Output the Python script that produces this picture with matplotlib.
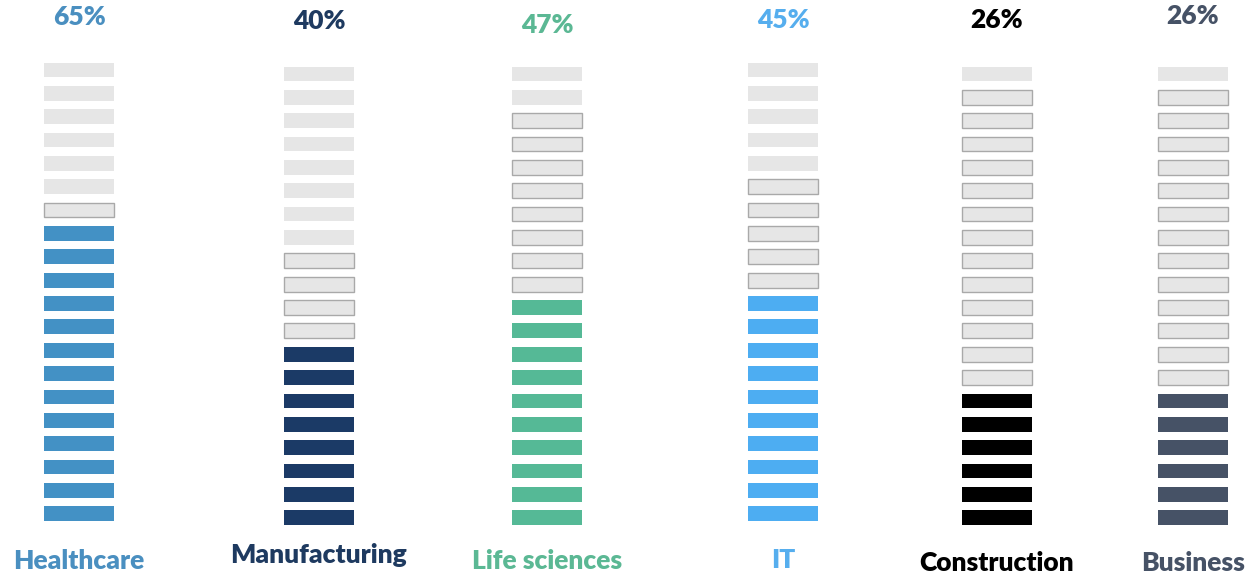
import matplotlib.pyplot as plt
import numpy as np

# data
categories = ["Healthcare", "Manufacturing", "Life sciences", "IT", "Construction", "Business"]
percent_labels = ["65%", "40%", "47%", "45%", "26%", "26%"]
filled_segments = [13, 8, 10, 10, 6, 6]
plain_segments = [6, 8, 2, 5, 1, 1]   # empty segments drawn without outline (top of column)
total_segments = 20

bar_colors = ["#4391C5", "#1B3A66", "#55B996", "#4DADF2", "#000000", "#465266"]
label_colors = ["#4A8FC0", "#1E3A60", "#5BB894", "#56AEEE", "#000000", "#465266"]

# layout (figure pixels)
col_x = [79, 319, 547, 783, 997, 1193]
col_shift = [-4, 0, 0, -4, 0, 0]
pct_y = [17, 21, 25, 20, 20, 16]
name_y = [561, 555, 561, 560, 563, 563]
pitch = 23.35
base_px = 525

plt.rcParams['font.family'] = ['Lato', 'DejaVu Sans']

fig = plt.figure(figsize=(12.55, 5.76), dpi=100)
ax = fig.add_axes([0, 0, 1, 1])
ax.set_xlim(0, 1255)
ax.set_ylim(-(576 - base_px) / pitch, base_px / pitch)
ax.axis("off")

seg = np.arange(total_segments)
for i, cat in enumerate(categories):
    n_fill = filled_segments[i]
    n_plain = plain_segments[i]
    faces = []
    edges = []
    for k in seg:
        if k < n_fill:
            faces.append(bar_colors[i])
            edges.append("none")
        elif k >= total_segments - n_plain:
            faces.append("#E6E6E6")
            edges.append("none")
        else:
            faces.append("#E6E6E6")
            edges.append("#A9A9A9")
    ax.bar([col_x[i]] * total_segments, [0.63] * total_segments,
           bottom=seg - col_shift[i] / pitch,
           width=70, color=faces, edgecolor=edges, linewidth=1.0, align="center")

    ax.text(col_x[i], (base_px - pct_y[i]) / pitch, percent_labels[i], ha="center", va="center",
            fontsize=19, fontweight="heavy", color=label_colors[i])
    ax.text(col_x[i], (base_px - name_y[i]) / pitch, cat, ha="center", va="center",
            fontsize=19, fontweight="heavy", color=label_colors[i])

fig.savefig("out.png", dpi=100)
